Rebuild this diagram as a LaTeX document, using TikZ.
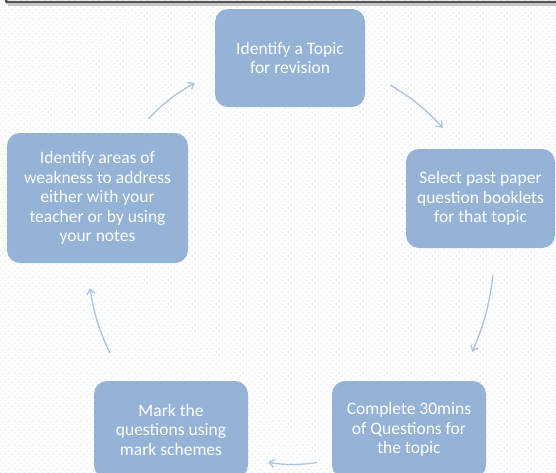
\documentclass[tikz,border=0pt]{standalone}
\usepackage{fontspec}
\setmainfont{Carlito}
\usetikzlibrary{arrows.meta,calc,patterns,positioning}
\definecolor{boxblue}{HTML}{95B3D7}
\definecolor{arrowblue}{HTML}{ADC4DF}
\definecolor{dotblue}{HTML}{D8E3F0}
\definecolor{framegrey}{HTML}{555555}
% dotted paper background
\pgfdeclarepatternformonly{paperdots}{\pgfpoint{-1pt}{-1pt}}{\pgfpoint{5pt}{5pt}}{\pgfpoint{6pt}{6pt}}{%
  \pgfpathcircle{\pgfpoint{0pt}{0pt}}{0.75pt}
  \pgfpathcircle{\pgfpoint{3pt}{3pt}}{0.75pt}
  \pgfusepath{fill}
}
\tikzset{
  stepbox/.style={fill=boxblue, rounded corners=13pt, text=white, align=center,
    font=\fontsize{17.5}{19.5}\selectfont, inner sep=0pt},
  cyclearrow/.style={arrowblue, line width=1.3pt,
    -{Straight Barb[length=5pt,width=8pt]}, bend left=8}
}

\begin{document}
\begin{tikzpicture}[x=1pt,y=-1pt]
  \useasboundingbox (0,0) rectangle (556,472);
  \clip (0,0) rectangle (556,472);
  % Background
  \fill[white] (0,0) rectangle (556,472);
  \fill[pattern=paperdots, pattern color=dotblue] (0,0) rectangle (556,472);
  % Frame edge at the top
  \draw[gray!45, line width=1.5pt] (8,5) -- (566,5);
  \draw[framegrey, line width=2.5pt, rounded corners=1pt] (6,-10) -- (6,2) -- (566,2);
  % Steps
  \node[stepbox, minimum width=150, minimum height=98] (topic) at (290,58)
    {Identify a Topic\\for revision};
  \node[stepbox, minimum width=149, minimum height=99] (papers) at (480.5,198.5)
    {Select past paper\\question booklets\\for that topic};
  \node[stepbox, minimum width=154, minimum height=97] (complete) at (409,429.5)
    {Complete 30mins\\of Questions for\\the topic};
  \node[stepbox, minimum width=154, minimum height=97] (marking) at (171,429.5)
    {Mark the\\questions using\\mark schemes};
  \node[stepbox, minimum width=181, minimum height=130] (weakness) at (97.5,198)
    {Identify areas of\\weakness to address\\either with your\\teacher or by using\\your notes};
  % Cycle arrows
  \draw[cyclearrow] ([shift={(25,27)}]topic.east) to ([shift={(37,-21)}]papers.north west);
  \draw[cyclearrow] ([shift={(12.5,27)}]papers.south) to ([shift={(-14,-29)}]complete.north east);
  \draw[cyclearrow] ([shift={(-15,33)}]complete.west) to ([shift={(20,33)}]marking.east);
  \draw[cyclearrow] ([shift={(16,-28)}]marking.north west) to ([shift={(-7.5,25)}]weakness.south);
  \draw[cyclearrow] ([shift={(-40,-14)}]weakness.north east) to ([shift={(-20,25)}]topic.west);
\end{tikzpicture}
\end{document}
